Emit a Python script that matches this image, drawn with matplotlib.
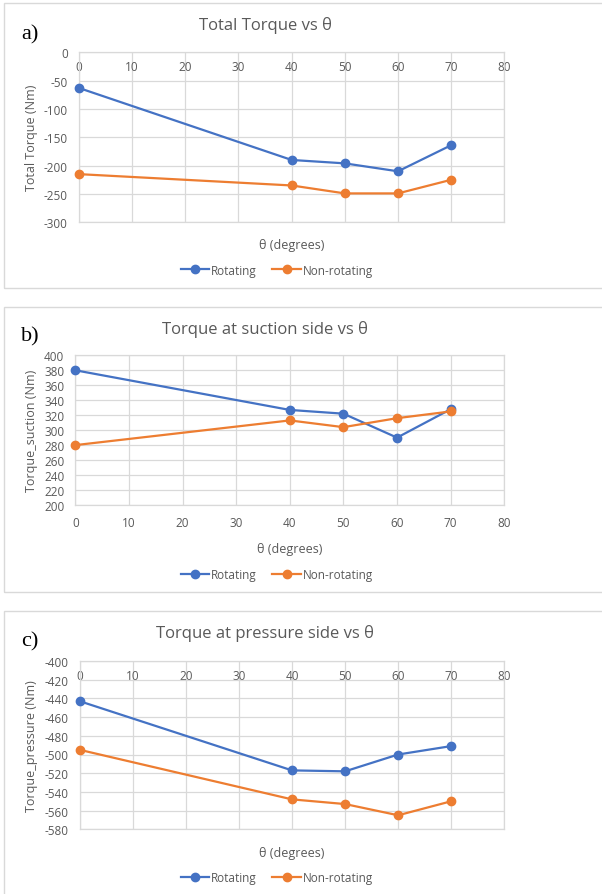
import matplotlib
matplotlib.use("Agg")
import matplotlib.pyplot as plt
from matplotlib.patches import Rectangle

plt.rcParams['font.family'] = ['Open Sans', 'DejaVu Sans']
plt.rcParams['axes.unicode_minus'] = False

theta = [0, 40, 50, 60, 70]
x_ticks = [0, 10, 20, 30, 40, 50, 60, 70, 80]

total_rot = [-63, -190, -196, -210, -164]
total_non = [-215, -235, -249, -249, -225]
suction_rot = [380, 327, 322, 290, 328]
suction_non = [280, 313, 304, 316, 325]
pressure_rot = [-443, -517, -518, -500, -491]
pressure_non = [-495, -548, -553, -565, -550]

panels = [
    dict(tag="a)", title="Total Torque vs θ", ylabel="Total Torque (Nm)",
         rot=total_rot, non=total_non, yticks=list(range(-300, 1, 50)),
         top_axis=True,
         plot=(79, 53.3, 504.3, 223.3), box=(4, 4, 289),
         title_y=25, tag_y=35, xlabel_y=246, legend_y=271),
    dict(tag="b)", title="Torque at suction side vs θ", ylabel="Torque_suction (Nm)",
         rot=suction_rot, non=suction_non, yticks=list(range(200, 401, 20)),
         top_axis=False,
         plot=(75.3, 356.3, 504.3, 506), box=(4, 308, 593),
         title_y=329, tag_y=337, xlabel_y=550, legend_y=576),
    dict(tag="c)", title="Torque at pressure side vs θ", ylabel="Torque_pressure (Nm)",
         rot=pressure_rot, non=pressure_non, yticks=list(range(-580, -399, 20)),
         top_axis=True,
         plot=(79.7, 662, 504.3, 830.3), box=(4, 612, 900),
         title_y=634, tag_y=642, xlabel_y=854, legend_y=879),
]

W, H = 602, 895
fig = plt.figure(figsize=(W / 100, H / 100), dpi=100)
fig.patch.set_facecolor('white')

BLUE = '#4472C4'
ORANGE = '#ED7D31'
GRID = '#D9D9D9'
TXT = '#595959'

for p in panels:
    bx0, by0, by1 = p['box']
    fig.patches.append(Rectangle((bx0 / W, 1 - by1 / H), (W + 10 - bx0) / W, (by1 - by0) / H,
                                 transform=fig.transFigure, fill=False,
                                 edgecolor='#D9D9D9', linewidth=1.0))
    x0, y0, x1, y1 = p['plot']
    ax = fig.add_axes([x0 / W, 1 - y1 / H, (x1 - x0) / W, (y1 - y0) / H])
    ax.plot(theta, p['rot'], color=BLUE, lw=1.6, marker='o', ms=6, label='Rotating',
            zorder=3, clip_on=False)
    ax.plot(theta, p['non'], color=ORANGE, lw=1.6, marker='o', ms=6, label='Non-rotating',
            zorder=3, clip_on=False)
    ax.set_xlim(0, 80)
    ax.set_ylim(p['yticks'][0], p['yticks'][-1])
    ax.set_xticks(x_ticks)
    ax.set_yticks(p['yticks'])
    ax.grid(True, color=GRID, lw=0.9)
    ax.set_axisbelow(True)
    for s in ax.spines.values():
        s.set_color(GRID)
        s.set_linewidth(0.9)
    ax.tick_params(axis='both', length=0, labelsize=8.5, labelcolor=TXT)
    ax.tick_params(axis='y', pad=8)
    if p['top_axis']:
        ax.xaxis.tick_top()
        ax.tick_params(axis='x', pad=-15)
    else:
        ax.tick_params(axis='x', pad=8)
    ax.set_ylabel(p['ylabel'], fontsize=9, color=TXT)
    ax.yaxis.set_label_coords(-(x0 - 38) / (x1 - x0), 0.5)
    cx = (x0 + x1) / 2
    fig.text(cx / W, 1 - p['xlabel_y'] / H, "θ (degrees)", ha='center', va='center',
             fontsize=9, color=TXT)
    fig.text(265 / W, 1 - p['title_y'] / H, p['title'], ha='center', va='center',
             fontsize=12, color=TXT)
    fig.text(21 / W, 1 - p['tag_y'] / H, p['tag'], ha='left', va='center',
             fontsize=16, color='black', family='Liberation Serif')
    fig.legend(handles=ax.get_lines(), loc='center', bbox_to_anchor=(277 / W, 1 - p['legend_y'] / H),
               ncol=2, frameon=False, fontsize=8.5, labelcolor=TXT, handlelength=2.4,
               handletextpad=0.2, columnspacing=1.3, borderpad=0)

fig.savefig('out.png', dpi=100)
